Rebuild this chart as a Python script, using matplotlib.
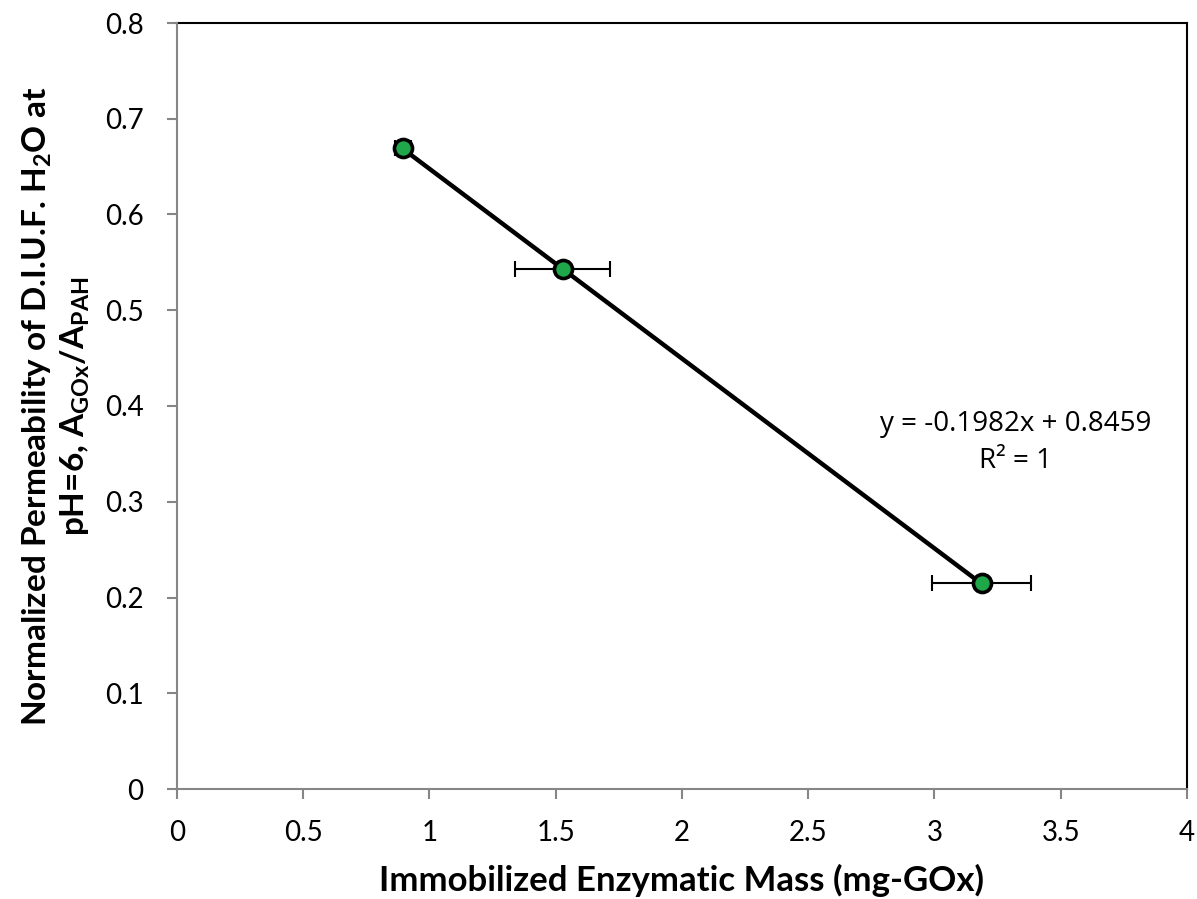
import numpy as np
import matplotlib
matplotlib.use("Agg")
import matplotlib.pyplot as plt

# data
mass = [0.895, 1.527, 3.188]
perm = [0.669, 0.543, 0.215]
mass_err = [0.03, 0.188, 0.196]

slope = -0.1982
intercept = 0.8459

plt.rcParams['font.family'] = ['Lato', 'DejaVu Sans']
plt.rcParams['mathtext.fontset'] = 'custom'
plt.rcParams['mathtext.rm'] = 'Lato:bold'
plt.rcParams['mathtext.bf'] = 'Lato:bold'
plt.rcParams['mathtext.it'] = 'Lato:bold'

fig = plt.figure(figsize=(11.97, 8.99), dpi=100)
ax = fig.add_axes([177/1197, 110/899, 1010/1197, 766/899])

# trendline over the data range
xs = np.array([min(mass), max(mass)])
ax.plot(xs, slope * xs + intercept, color='black', lw=3.2, zorder=2)

ax.errorbar(mass, perm, xerr=mass_err, fmt='none', ecolor='black',
            elinewidth=1.5, capsize=6, capthick=1.5, zorder=1)
ax.plot(mass, perm, 'o', ms=13, mfc='#1ea84a', mec='black', mew=2.6, zorder=3)

ax.text(3.32, 0.362, 'y = -0.1982x + 0.8459\nR² = 1', ha='center', va='center',
        fontsize=20, linespacing=1.45, family=['Open Sans', 'DejaVu Sans'])

ax.set_xlim(0, 4)
ax.set_ylim(0, 0.8)
ax.set_xticks(np.arange(0, 4.01, 0.5))
ax.set_xticklabels(['0', '0.5', '1', '1.5', '2', '2.5', '3', '3.5', '4'])
ax.set_yticks(np.arange(0, 0.81, 0.1))
ax.set_yticklabels(['0', '0.1', '0.2', '0.3', '0.4', '0.5', '0.6', '0.7', '0.8'])
ax.tick_params(labelsize=20, direction='out', length=7, width=1.5, color='#868686',
               labelcolor='black')
ax.tick_params(axis='x', pad=15)
ax.tick_params(axis='y', pad=17)
for side in ['top', 'right']:
    ax.spines[side].set_color('black')
    ax.spines[side].set_linewidth(1.5)
for side in ['left', 'bottom']:
    ax.spines[side].set_color('#868686')
    ax.spines[side].set_linewidth(1.5)
    ax.spines[side].set_zorder(3)

ax.set_xlabel('Immobilized Enzymatic Mass (mg-GOx)', fontsize=25, fontweight='bold', labelpad=13)
ax.set_ylabel('Normalized Permeability of D.I.U.F. H$_2$O at\npH=6, A$_{\\mathrm{GOx}}$/A$_{\\mathrm{PAH}}$',
              fontsize=24, fontweight='bold', labelpad=9, linespacing=1.2)

fig.savefig('out.png', dpi=100)
